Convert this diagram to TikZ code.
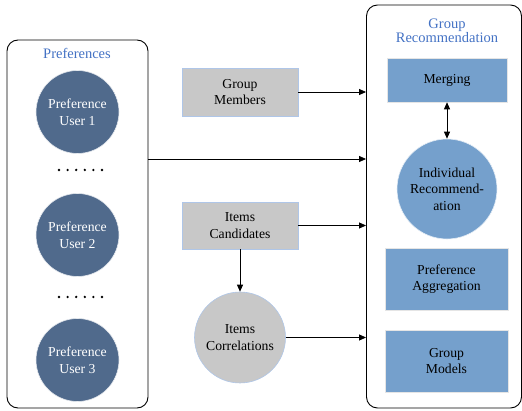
\documentclass[tikz,border=0pt]{standalone}
\usepackage{fontspec}
\setmainfont{Liberation Serif}
\usetikzlibrary{arrows.meta,calc}
\definecolor{slate}{RGB}{80,106,140}
\definecolor{skyb}{RGB}{117,160,204}
\definecolor{greyb}{RGB}{200,200,200}
\definecolor{titleb}{RGB}{68,114,196}
\definecolor{lblue}{RGB}{175,198,232}
\tikzset{
  grp/.style={draw=black, line width=0.9pt, rounded corners=11pt, inner sep=0pt},
  ttl/.style={text=titleb, font=\fontsize{14.5}{15}\selectfont, align=center},
  body/.style={font=\fontsize{13.7}{16.5}\selectfont, align=center, inner sep=0pt},
  ucirc/.style={body, circle, fill=slate, draw=white!85!slate, line width=0.6pt, text=white, minimum size=83pt},
  bcirc/.style={body, circle, fill=skyb, draw=white!80!skyb, line width=0.6pt, minimum size=100pt},
  gcirc/.style={body, circle, fill=greyb, draw=lblue, line width=0.6pt, minimum size=91pt},
  gbox/.style={body, rectangle, fill=greyb, draw=lblue, line width=0.6pt, minimum width=116pt, minimum height=48pt},
  bbox/.style={body, rectangle, fill=skyb, draw=white!80!gray, line width=0.6pt, minimum width=122pt},
  arr/.style={-{Triangle[length=7pt,width=6pt]}, line width=0.8pt},
  darr/.style={{Triangle[length=7pt,width=6pt]}-{Triangle[length=7pt,width=6pt]}, line width=0.8pt},
}
\begin{document}
\begin{tikzpicture}[x=1pt,y=-1pt]
\useasboundingbox (0,0) rectangle (522,411);
% group boxes
\node[grp, minimum width=141pt, minimum height=368pt] (left) at (77.5,224) {};
\node[grp, minimum width=155pt, minimum height=403pt] (right) at (444,206.5) {};
\node[ttl] (lt) at (77,53) {Preferences};
\node[ttl, font=\fontsize{14.5}{13}\selectfont] (rt) at (447,30.5) {Group\\Recommendation};
% users
\node[ucirc] (u1) at (77.5,112) {Preference\\User 1};
\node[ucirc] (u2) at (77.5,235) {Preference\\User 2};
\node[ucirc] (u3) at (77.5,360) {Preference\\User 3};
\foreach \yy in {170,297}{
  \foreach \i in {0,...,5}{
    \fill (59+\i*8.6,\yy) circle (1.3pt);
  }
}
% middle
\node[gbox] (mem) at (240,92) {Group\\Members};
\node[gbox, minimum height=47pt] (cand) at (240,225.5) {Items\\Candidates};
\node[gcirc] (corr) at (240,337.5) {Items\\Correlations};
% right side
\node[bbox, minimum width=120pt, minimum height=44pt] (merg) at (447,80) {Merging};
\node[bcirc] (ind) at (447,189) {Individual\\Recommend-\\ation};
\node[bbox, minimum width=123pt, minimum height=62pt] (agg) at (446.5,279) {Preference\\Aggregation};
\node[bbox, minimum width=123pt, minimum height=62pt] (gm) at (446.5,361) {Group\\Models};
% connectors
\coordinate (lp) at (148,159);
\draw[arr] (mem.east) -- (mem.east -| right.west);
\draw[arr] (lp) -- (lp -| right.west);
\draw[arr] (cand.east) -- (cand.east -| right.west);
\draw[arr] (corr.east) -- (corr.east -| right.west);
\draw[arr] (cand.south) -- (corr.north);
\draw[darr] (merg.south) -- (ind.north);
\end{tikzpicture}
\end{document}
